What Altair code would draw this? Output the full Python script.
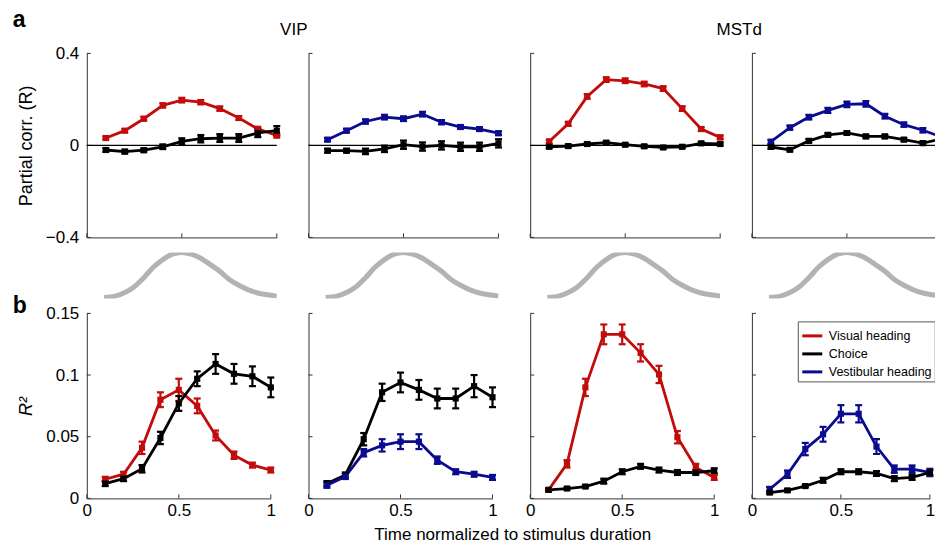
import altair as alt
import pandas as pd

FONT = "Liberation Sans"
X = [0.1, 0.2, 0.3, 0.4, 0.5, 0.6, 0.7, 0.8, 0.9, 1.0]
SERIES = ["Visual heading", "Choice", "Vestibular heading"]
COLORS = ["#c20b0b", "#000000", "#0b0b8f"]
AREAS = ["VIP", "MSTd"]
PANEL_LETTERS = ["a", "b"]
Y_TITLE_A = "Partial corr. (R)"
Y_TITLE_B = "R²"
X_TITLE = "Time normalized to stimulus duration"

# ---- panel a: partial correlation ----
A1_VIS = [0.032, 0.064, 0.116, 0.174, 0.197, 0.188, 0.160, 0.119, 0.072, 0.043]
A1_VIS_E = [0.007, 0.007, 0.008, 0.009, 0.010, 0.009, 0.009, 0.008, 0.008, 0.008]
A1_CHO = [-0.020, -0.027, -0.021, -0.006, 0.017, 0.029, 0.032, 0.032, 0.054, 0.064]
A1_CHO_E = [0.008, 0.008, 0.008, 0.010, 0.014, 0.016, 0.017, 0.017, 0.018, 0.020]
A2_VES = [0.025, 0.064, 0.104, 0.123, 0.116, 0.136, 0.101, 0.080, 0.071, 0.053]
A2_VES_E = [0.007, 0.008, 0.009, 0.010, 0.010, 0.010, 0.009, 0.008, 0.008, 0.008]
A2_CHO = [-0.023, -0.023, -0.026, -0.015, 0.003, -0.005, 0.000, -0.006, -0.006, 0.009]
A2_CHO_E = [0.008, 0.008, 0.012, 0.014, 0.018, 0.018, 0.018, 0.018, 0.018, 0.018]
A3_VIS = [0.017, 0.094, 0.213, 0.286, 0.281, 0.267, 0.247, 0.160, 0.071, 0.035]
A3_VIS_E = [0.008, 0.008, 0.010, 0.010, 0.010, 0.010, 0.010, 0.010, 0.008, 0.008]
A3_CHO = [-0.006, -0.003, 0.006, 0.012, 0.003, -0.004, -0.009, -0.006, 0.009, 0.006]
A3_CHO_E = [0.006, 0.006, 0.006, 0.006, 0.006, 0.006, 0.006, 0.006, 0.006, 0.006]
A4_VES = [0.016, 0.077, 0.123, 0.152, 0.178, 0.181, 0.127, 0.090, 0.066, 0.036]
A4_VES_E = [0.008, 0.009, 0.010, 0.011, 0.012, 0.012, 0.010, 0.009, 0.009, 0.008]
A4_CHO = [-0.007, -0.019, 0.020, 0.046, 0.054, 0.039, 0.039, 0.025, 0.010, 0.029]
A4_CHO_E = [0.007, 0.007, 0.007, 0.007, 0.007, 0.007, 0.007, 0.007, 0.007, 0.007]

# ---- panel b: R^2 ----
B1_VIS = [0.0155, 0.0196, 0.041, 0.080, 0.088, 0.075, 0.051, 0.035, 0.027, 0.023]
B1_VIS_E = [0.002, 0.002, 0.005, 0.006, 0.009, 0.006, 0.004, 0.003, 0.002, 0.002]
B1_CHO = [0.012, 0.016, 0.024, 0.049, 0.077, 0.097, 0.109, 0.101, 0.099, 0.090]
B1_CHO_E = [0.002, 0.002, 0.003, 0.005, 0.006, 0.006, 0.008, 0.008, 0.008, 0.008]
B2_CHO = [0.012, 0.019, 0.048, 0.086, 0.094, 0.088, 0.081, 0.081, 0.091, 0.082]
B2_CHO_E = [0.002, 0.002, 0.005, 0.007, 0.008, 0.008, 0.008, 0.008, 0.009, 0.008]
B2_VES = [0.0106, 0.0177, 0.037, 0.043, 0.046, 0.046, 0.031, 0.0216, 0.0196, 0.017]
B2_VES_E = [0.002, 0.002, 0.003, 0.005, 0.006, 0.006, 0.003, 0.002, 0.002, 0.002]
B3_VIS = [0.0069, 0.028, 0.090, 0.133, 0.133, 0.118, 0.1005, 0.0496, 0.025, 0.017]
B3_VIS_E = [0.001, 0.003, 0.007, 0.008, 0.008, 0.007, 0.007, 0.005, 0.003, 0.002]
B3_CHO = [0.0069, 0.008, 0.0096, 0.014, 0.0216, 0.026, 0.023, 0.021, 0.021, 0.0224]
B3_CHO_E = [0.001, 0.001, 0.001, 0.002, 0.002, 0.002, 0.002, 0.002, 0.002, 0.002]
B4_VES = [0.0074, 0.0196, 0.040, 0.052, 0.0686, 0.0686, 0.042, 0.0237, 0.0237, 0.021]
B4_VES_E = [0.002, 0.003, 0.005, 0.006, 0.007, 0.007, 0.006, 0.003, 0.003, 0.003]
B4_CHO = [0.0047, 0.0065, 0.010, 0.0147, 0.0216, 0.0216, 0.0202, 0.016, 0.017, 0.021]
B4_CHO_E = [0.001, 0.001, 0.001, 0.002, 0.002, 0.002, 0.002, 0.002, 0.002, 0.002]

# ---- stimulus velocity profile (gray) ----
GX = [0.09, 0.15, 0.2, 0.25, 0.3, 0.35, 0.4, 0.45, 0.5, 0.55, 0.6, 0.65, 0.7, 0.75, 0.8, 0.85, 0.9, 0.95, 1.0]
GY = [0.0, 0.03, 0.11, 0.24, 0.44, 0.67, 0.84, 0.96, 1.0, 0.96, 0.87, 0.73, 0.58, 0.40, 0.27, 0.17, 0.10, 0.06, 0.03]

A_YTICKS = [-0.4, 0, 0.4]
B_YTICKS = [0, 0.05, 0.1, 0.15]
XTICKS = [0, 0.5, 1]

WA, HA = 190, 184
WB, HB = 184, 185
WB_LAST = 178
HG = 46
STEP = 221.7

cscale = alt.Scale(domain=SERIES, range=COLORS)


def text_layer(txt, x, y, size=17, weight="normal", align="center", angle=0):
    return alt.Chart(pd.DataFrame({"t": [txt]})).mark_text(
        font=FONT, fontSize=size, fontWeight=weight, align=align,
        baseline="alphabetic", color="black", angle=angle
    ).encode(text="t:N", x=alt.value(x), y=alt.value(y))


def panel(series, W, H, ydom, yticks, yfmt, first, ytitle, xlabels, zero, clip, extras):
    rows = []
    for name, vals, errs in series:
        for xv, v, e in zip(X, vals, errs):
            rows.append({"x": xv, "y": v, "lo": v - e, "hi": v + e, "s": name})
    df = pd.DataFrame(rows)
    xs = alt.Scale(domain=[0, 1], nice=False, zero=False)
    ys = alt.Scale(domain=ydom, nice=False, zero=False)
    col = alt.Color("s:N", scale=cscale, legend=alt.Legend(title=None))
    xax = alt.Axis(values=XTICKS, labels=xlabels, ticks=False, title=None, grid=False,
                   format=".1~f", labelPadding=4, labelFlush=False)
    yax = alt.Axis(values=yticks, labels=first, ticks=False,
                   title=ytitle if first else None, grid=False, format=yfmt,
                   labelPadding=8, titlePadding=10, labelFlush=False, titleFontSize=18,
                   titleFontStyle="italic" if ytitle == Y_TITLE_B else "normal")
    base = alt.Chart(df)
    enc_x = alt.X("x:Q", scale=xs, axis=xax)
    layers = []
    layers.append(alt.Chart(pd.DataFrame({"v": yticks})).mark_rule(color="#333", strokeWidth=1).encode(
        y=alt.Y("v:Q", scale=ys, axis=yax), x=alt.value(0), x2=alt.value(4)))
    layers.append(alt.Chart(pd.DataFrame({"v": XTICKS})).mark_rule(color="#333", strokeWidth=1).encode(
        x=alt.X("v:Q", scale=xs, axis=xax), y=alt.value(H), y2=alt.value(H - 4)))
    if zero:
        layers.append(alt.Chart(pd.DataFrame({"z": [0]})).mark_rule(color="black", strokeWidth=1.2).encode(
            y=alt.Y("z:Q", scale=ys, axis=yax), x=alt.value(0), x2=alt.value(W)))
    layers.append(base.mark_line(strokeWidth=2.8, clip=clip).encode(
        x=enc_x, y=alt.Y("y:Q", scale=ys, axis=yax), color=col))
    layers.append(base.mark_rule(strokeWidth=2.2, clip=clip).encode(
        x=enc_x, y=alt.Y("lo:Q", scale=ys, axis=yax), y2="hi:Q", color=col))
    for f in ["lo", "hi"]:
        layers.append(base.mark_tick(orient="horizontal", size=7, thickness=2.2, opacity=1, clip=clip).encode(
            x=enc_x, y=alt.Y(f + ":Q", scale=ys, axis=yax), color=col))
    layers.append(base.mark_square(size=38, opacity=1, clip=clip).encode(
        x=enc_x, y=alt.Y("y:Q", scale=ys, axis=yax), color=col))
    layers += extras
    return alt.layer(*layers).properties(width=W, height=H)


def gauss():
    df = pd.DataFrame({"gx": GX, "gy": GY})
    return alt.Chart(df).mark_line(color="#b3b3b3", strokeWidth=5, interpolate="monotone", clip=True).encode(
        x=alt.X("gx:Q", scale=alt.Scale(domain=[0, 1], nice=False), axis=None),
        y=alt.Y("gy:Q", scale=alt.Scale(domain=[-0.02, 1.0], nice=False), axis=None),
    ).properties(width=WA, height=HG)


vis, cho, ves = SERIES
AF, BF = ".1~f", ".2~f"
a1 = panel([(vis, A1_VIS, A1_VIS_E), (cho, A1_CHO, A1_CHO_E)], WA, HA, [-0.4, 0.4], A_YTICKS, AF, True, Y_TITLE_A, False, True, False,
           [text_layer(PANEL_LETTERS[0], -74, -26, size=23, weight="bold", align="left"),
            text_layer(AREAS[0], 207, -18)])
a2 = panel([(ves, A2_VES, A2_VES_E), (cho, A2_CHO, A2_CHO_E)], WA, HA, [-0.4, 0.4], A_YTICKS, AF, False, None, False, True, False, [])
a3 = panel([(vis, A3_VIS, A3_VIS_E), (cho, A3_CHO, A3_CHO_E)], WA, HA, [-0.4, 0.4], A_YTICKS, AF, False, None, False, True, False,
           [text_layer(AREAS[1], 209, -18)])
a4 = panel([(ves, A4_VES, A4_VES_E), (cho, A4_CHO, A4_CHO_E)], WA, HA, [-0.4, 0.4], A_YTICKS, AF, False, None, False, True, True, [])

b1 = panel([(vis, B1_VIS, B1_VIS_E), (cho, B1_CHO, B1_CHO_E)], WB, HB, [0, 0.15], B_YTICKS, BF, True, Y_TITLE_B, True, False, False,
           [text_layer(PANEL_LETTERS[1], -74, 0, size=23, weight="bold", align="left"),
            text_layer(X_TITLE, 426, 226.5)])
b2 = panel([(cho, B2_CHO, B2_CHO_E), (ves, B2_VES, B2_VES_E)], WB, HB, [0, 0.15], B_YTICKS, BF, False, None, True, False, False, [])
b3 = panel([(vis, B3_VIS, B3_VIS_E), (cho, B3_CHO, B3_CHO_E)], WB, HB, [0, 0.15], B_YTICKS, BF, False, None, True, False, False, [])
b4 = panel([(ves, B4_VES, B4_VES_E), (cho, B4_CHO, B4_CHO_E)], WB_LAST, HB, [0, 0.15], B_YTICKS, BF, False, None, True, False, False, [])

chart = alt.ConcatChart(
    concat=[a1, a2, a3, a4, gauss(), gauss(), gauss(), gauss(), b1, b2, b3, b4],
    columns=4, spacing={"row": 15, "column": STEP - WA}, bounds="flush", align="each"
).configure_view(
    stroke=None
).configure_axis(
    labelFont=FONT, titleFont=FONT, labelFontSize=17, titleFontSize=17,
    labelColor="black", titleColor="black", domainColor="#333", domainWidth=1,
    titleFontWeight="normal"
).configure_legend(
    orient="none", legendX=711, legendY=268, strokeColor="#555", fillColor="white",
    padding=3, labelFont=FONT, labelFontSize=12.5, labelColor="black", labelOffset=5,
    symbolType="stroke", symbolStrokeWidth=3, symbolSize=400, rowPadding=0
).properties(padding={"left": 4.8, "top": 1.4, "right": -8, "bottom": 1})

chart.save("out.html", embed_options={"renderer": "svg", "actions": False})
